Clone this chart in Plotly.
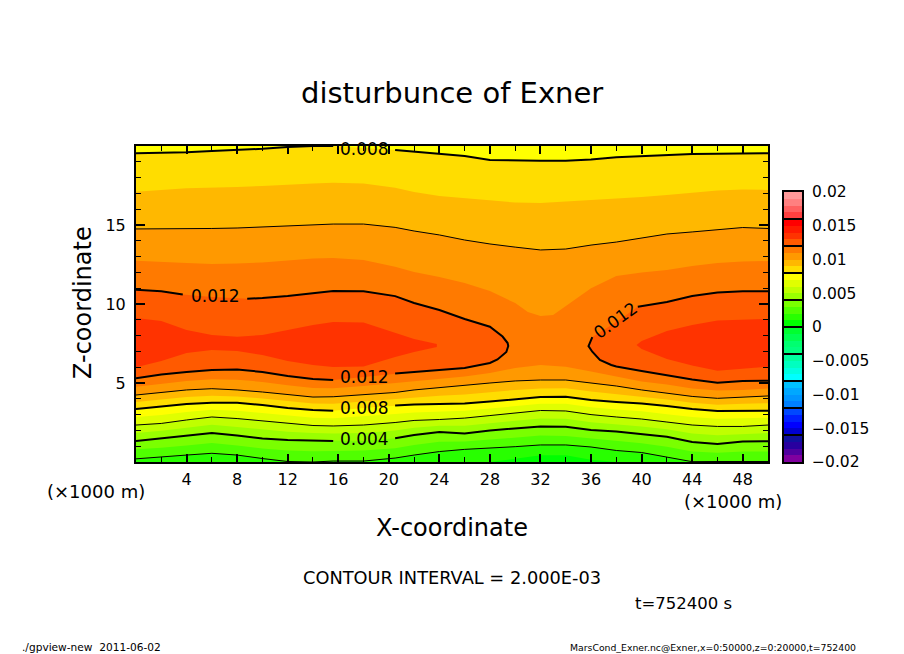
import plotly.graph_objects as go

# Heights (km) where each Exner level crosses.
# No field is available, so bands and contour lines are drawn from these crossings.
x_km = [0, 2, 4, 6, 8, 10, 12, 14, 15.6, 18, 20.5, 22, 24, 26, 28, 30, 32, 34, 36, 38, 40, 42, 44, 46, 48, 50]

lower_001 = [0, 0, 0, 0, 0, 0, 0, 0, 0, 0, 0, 0, 0, 0, 0, 0.2, 0.42, 0.42, 0.15, 0, 0, 0, 0, 0, 0, 0]
lower_002 = [0.2, 0.3, 0.44, 0.55, 0.44, 0.22, 0.03, 0.0, 0.06, 0.06, 0.25, 0.44, 0.66, 0.8, 0.87, 0.97, 1.08, 1.08, 0.95, 0.73, 0.6, 0.32, 0.02, 0.03, 0.03, 0.03]
lower_003 = [0.8, 0.9, 1.05, 1.2, 1.05, 0.85, 0.72, 0.68, 0.7, 0.72, 0.87, 1.07, 1.28, 1.3, 1.42, 1.55, 1.67, 1.65, 1.5, 1.33, 1.18, 0.97, 0.66, 0.58, 0.67, 0.67]
lower_004 = [1.33, 1.49, 1.68, 1.84, 1.68, 1.49, 1.39, 1.36, 1.33, 1.33, 1.5, 1.71, 1.9, 1.8, 2.0, 2.12, 2.25, 2.23, 2.03, 1.93, 1.77, 1.6, 1.27, 1.14, 1.3, 1.31]
lower_005 = [1.84, 1.97, 2.17, 2.35, 2.22, 2.05, 1.92, 1.84, 1.8, 1.84, 1.99, 2.17, 2.3, 2.29, 2.47, 2.61, 2.76, 2.73, 2.52, 2.39, 2.25, 2.07, 1.8, 1.7, 1.78, 1.83]
lower_006 = [2.34, 2.44, 2.66, 2.85, 2.75, 2.6, 2.44, 2.31, 2.28, 2.34, 2.5, 2.63, 2.69, 2.78, 2.94, 3.1, 3.26, 3.23, 3.0, 2.85, 2.72, 2.53, 2.34, 2.25, 2.25, 2.34]
lower_007 = [2.85, 2.98, 3.17, 3.3, 3.25, 3.1, 2.93, 2.8, 2.77, 2.88, 3.04, 3.13, 3.18, 3.24, 3.38, 3.55, 3.69, 3.68, 3.46, 3.33, 3.21, 3.03, 2.85, 2.74, 2.75, 2.8]
lower_008 = [3.35, 3.51, 3.67, 3.75, 3.75, 3.6, 3.42, 3.29, 3.25, 3.42, 3.58, 3.64, 3.67, 3.7, 3.83, 3.99, 4.11, 4.13, 3.92, 3.8, 3.7, 3.54, 3.35, 3.23, 3.25, 3.25]
lower_009 = [3.8, 3.95, 4.11, 4.2, 4.15, 4.02, 3.85, 3.7, 3.69, 3.83, 3.98, 4.1, 4.2, 4.28, 4.42, 4.56, 4.65, 4.66, 4.46, 4.3, 4.13, 3.95, 3.75, 3.63, 3.68, 3.72]
lower_010 = [4.24, 4.4, 4.56, 4.64, 4.56, 4.43, 4.27, 4.11, 4.13, 4.24, 4.4, 4.56, 4.72, 4.87, 5.0, 5.13, 5.19, 5.19, 5.0, 4.81, 4.56, 4.37, 4.15, 4.03, 4.11, 4.18]
lower_011 = [4.77, 4.97, 5.13, 5.23, 5.2, 5.07, 4.85, 4.68, 4.66, 4.81, 5.0, 5.13, 5.27, 5.41, 5.63, 5.95, 6.14, 6.03, 5.72, 5.4, 5.1, 4.9, 4.65, 4.52, 4.55, 4.65]

upper_008 = [19.54, 19.57, 19.6, 19.68, 19.75, 19.82, 19.94, 20, 20, 19.9, 19.75, 19.65, 19.53, 19.37, 19.11, 19.07, 19.07, 19.07, 19.15, 19.29, 19.37, 19.43, 19.49, 19.51, 19.53, 19.54]
upper_009 = [17.11, 17.22, 17.32, 17.37, 17.41, 17.47, 17.53, 17.63, 17.68, 17.63, 17.35, 17.09, 16.84, 16.68, 16.55, 16.42, 16.39, 16.46, 16.55, 16.68, 16.77, 16.9, 17.06, 17.18, 17.25, 17.22]
upper_010 = [14.75, 14.75, 14.75, 14.78, 14.81, 14.87, 14.94, 15.0, 15.06, 15.06, 14.85, 14.62, 14.37, 14.05, 13.8, 13.6, 13.42, 13.48, 13.73, 13.92, 14.18, 14.43, 14.56, 14.72, 14.84, 14.78]

x_upper_011 = [0, 2, 4, 6, 8, 10, 12, 14, 15.6, 18, 20.5, 22, 24, 26, 28, 30, 31, 32, 33, 34, 36, 38, 40, 42, 44, 46, 48, 50]
upper_011 = [12.74, 12.66, 12.59, 12.53, 12.56, 12.63, 12.75, 12.88, 12.91, 12.78, 12.35, 12.03, 11.71, 11.33, 10.82, 10.06, 9.49, 9.24, 9.3, 9.87, 11.0, 11.77, 11.99, 12.15, 12.4, 12.59, 12.69, 12.72]

# 0.012 closes into two lobes
left_012_x_lower = [0, 2, 4, 6, 8, 10, 12, 14, 15.6, 18, 20.5, 22, 24, 26, 28, 28.6, 29.3, 29.45]
left_012_z_lower = [5.3, 5.54, 5.7, 5.82, 5.85, 5.7, 5.44, 5.25, 5.19, 5.38, 5.6, 5.7, 5.82, 5.95, 6.27, 6.49, 6.96, 7.34]
left_012_x_upper = [29.4, 29, 28, 26, 24, 22, 20.5, 18, 15.6, 14, 12, 10, 8.8, 6, 3.7, 2, 0]
left_012_z_upper = [7.53, 7.94, 8.56, 9.05, 9.62, 10.06, 10.5, 10.8, 10.82, 10.66, 10.5, 10.38, 10.33, 10.44, 10.6, 10.8, 10.9]
right_012_x_lower = [35.8, 36.1, 36.7, 37.6, 38, 40, 42, 44, 46, 48, 50]
right_012_z_lower = [7.34, 6.98, 6.46, 6.14, 6.04, 5.76, 5.47, 5.22, 5.02, 5.13, 5.15]
right_012_x_upper = [50, 48, 46, 44, 42, 39.7, 38, 36.1]
right_012_z_upper = [10.8, 10.8, 10.72, 10.5, 10.13, 9.83, 8.86, 7.91]

# 0.013 core of each lobe
left_013_x = [0, 2, 4, 6, 8, 10, 12, 14, 15.6, 18, 20.5, 22, 23.8]
left_013_upper = [9.11, 8.92, 8.35, 8.04, 7.93, 8.04, 8.35, 8.67, 8.86, 8.83, 8.16, 7.78, 7.47]
left_013_lower = [5.99, 6.39, 6.9, 7.09, 7.03, 6.77, 6.39, 6.14, 6.01, 6.04, 6.65, 6.96, 7.28]
right_013_x = [39.6, 40, 42, 44, 46, 48, 50]
right_013_upper = [7.4, 7.66, 8.29, 8.67, 8.96, 9.02, 9.05]
right_013_lower = [7.4, 7.15, 6.52, 6.11, 5.78, 5.89, 6.03]

x_ticks = [4, 8, 12, 16, 20, 24, 28, 32, 36, 40, 44, 48]
y_ticks = [5, 10, 15]

# colour bar, bottom (-0.02) to top (0.02), one colour per 0.001
band_colors = [
    "#80009f", "#50009f", "#28009f", "#10109f",
    "#0000d0", "#0000ff", "#0020ff", "#0048ff",
    "#0080ff", "#0095ff", "#00a8ff", "#00c0ff",
    "#00ffff", "#00ffe0", "#00ffc0", "#00ffa0",
    "#00ff80", "#00ff70", "#00ff50", "#00ff30",
    "#00ff00", "#28ff00", "#50ff00", "#7aff00",
    "#9aff00", "#c0ff00", "#e0ff00", "#ffff00",
    "#ffdd00", "#ffb800", "#ff9900", "#ff7a00",
    "#ff5a00", "#ff3300", "#ff1a00", "#ff0000",
    "#ff4040", "#ff6060", "#ff8080", "#ff9999",
]
band_centers = [(i - 19.5) / 1000 for i in range(40)]
bar_ticks = [0.02, 0.015, 0.01, 0.005, 0, -0.005, -0.01, -0.015, -0.02]
bar_labels = ["0.02", "0.015", "0.01", "0.005", "0", "\u22120.005", "\u22120.01", "\u22120.015", "\u22120.02"]
bar_lines = [-0.016, -0.012, -0.008, -0.004, 0, 0.004, 0.008, 0.012, 0.016]

FONT = "DejaVu Sans"
# the page keeps its default 8px body margin, so the figure is 8px smaller and offset
PAGE_MARGIN = 8
FIG_W = 904 - PAGE_MARGIN
FIG_H = 654 - PAGE_MARGIN


def color_of(level):
    # band that starts at this level in thousandths
    return band_colors[level + 20]


def px(x):
    return (x - PAGE_MARGIN) / FIG_W


def py(y):
    return 1 - (y - PAGE_MARGIN) / FIG_H


def gap(xs, zs, hidden):
    # leave a hole in the line where a label sits
    return [None if x == hidden else z for x, z in zip(xs, zs)]


fig = go.Figure()


def add_fill(xs, zs, level):
    fig.add_trace(go.Scatter(x=xs, y=zs, mode="lines", fill="toself", fillcolor=color_of(level),
                             line=dict(width=0), hoverinfo="skip", showlegend=False))


def add_line(xs, zs, width):
    fig.add_trace(go.Scatter(x=xs, y=zs, mode="lines", line=dict(color="black", width=width),
                             hoverinfo="skip", showlegend=False))


# bands that run to the top of the plot
for level, lower in [(1, lower_001), (2, lower_002), (3, lower_003), (4, lower_004),
                     (5, lower_005), (6, lower_006), (7, lower_007)]:
    add_fill(x_km + [50, 0], lower + [20, 20], level)

# bands closed by a second crossing aloft
add_fill(x_km + x_km[::-1], lower_008 + upper_008[::-1], 8)
add_fill(x_km + x_km[::-1], lower_009 + upper_009[::-1], 9)
add_fill(x_km + x_km[::-1], lower_010 + upper_010[::-1], 10)
add_fill(x_km + x_upper_011[::-1], lower_011 + upper_011[::-1], 11)

# lobes
add_fill(left_012_x_lower + left_012_x_upper, left_012_z_lower + left_012_z_upper, 12)
add_fill(right_012_x_lower + right_012_x_upper, right_012_z_lower + right_012_z_upper, 12)
add_fill(left_013_x + left_013_x[::-1], left_013_lower + left_013_upper[::-1], 13)
add_fill(right_013_x + right_013_x[::-1], right_013_lower + right_013_upper[::-1], 13)

# contour lines, thin and labelled thick
add_line(x_km, lower_002, 1)
add_line(x_km, lower_006, 1)
add_line(x_km, lower_010, 1)
add_line(x_km, upper_010, 1)
add_line(x_km, gap(x_km, lower_004, 18), 2)
add_line(x_km, gap(x_km, lower_008, 18), 2)
add_line(x_km, gap(x_km, upper_008, 18), 2)
add_line(left_012_x_lower + left_012_x_upper,
         gap(left_012_x_lower, left_012_z_lower, 18) + gap(left_012_x_upper, left_012_z_upper, 6), 2)
add_line(right_012_x_upper + right_012_x_lower,
         gap(right_012_x_upper, right_012_z_upper, 38) + right_012_z_lower, 2)

# colour bar on its own small axes
fig.add_trace(go.Heatmap(x0=0.5, dx=1, y=band_centers, z=[[c] for c in band_centers],
                         zmin=-0.02, zmax=0.02, showscale=False, hoverinfo="skip",
                         colorscale=[s for i, c in enumerate(band_colors) for s in ((i / 40, c), ((i + 1) / 40, c))],
                         xaxis="x2", yaxis="y2"))
line_x, line_y = [], []
for v in bar_lines:
    line_x += [0, 1, None]
    line_y += [v, v, None]
fig.add_trace(go.Scatter(x=line_x, y=line_y, mode="lines", line=dict(color="black", width=2),
                         hoverinfo="skip", showlegend=False, xaxis="x2", yaxis="y2"))


def note(text, x, y, size, **kw):
    fig.add_annotation(text=text, x=px(x), y=py(y), xref="paper", yref="paper", showarrow=False,
                       xanchor="center", yanchor="middle", font=dict(family=FONT, size=size, color="black"), **kw)


def contour_label(text, x, z, **kw):
    fig.add_annotation(text=text, x=x, y=z, xref="x", yref="y", showarrow=False,
                       xanchor="center", yanchor="middle", font=dict(family=FONT, size=17, color="black"), **kw)


contour_label("0.008", 18.1, 19.8)
contour_label("0.012", 6.3, 10.5)
contour_label("0.012", 18.1, 5.4)
contour_label("0.008", 18.1, 3.42)
contour_label("0.004", 18.1, 1.46)
contour_label("0.012", 37.97, 8.99, textangle=-36)

note("disturbunce of Exner", 452, 93, 29)
note("X-coordinate", 452, 528, 24)
note("Z-coordinate", 83, 303, 24, textangle=-90)
note("(\u00d71000 m)", 96, 491, 18)
note("(\u00d71000 m)", 733, 501, 18)
note("CONTOUR INTERVAL = 2.000E-03", 452, 577, 17.8)
note("t=752400 s", 683, 603, 16.5)
note("./gpview-new\u00a0\u00a02011-06-02", 91, 647, 10.6)
note("MarsCond_Exner.nc@Exner,x=0:50000,z=0:20000,t=752400", 713, 647, 9.3)

fig.update_layout(
    width=FIG_W, height=FIG_H, margin=dict(l=0, r=0, t=0, b=0),
    paper_bgcolor="white", plot_bgcolor=color_of(0), showlegend=False,
    font=dict(family=FONT, color="black"),
    xaxis=dict(domain=[px(136), px(768)], range=[0, 50], tickvals=x_ticks, ticks="inside", ticklen=8, tickwidth=2,
               tickcolor="black", showline=True, linecolor="black", linewidth=2, mirror="ticks", automargin=False,
               showgrid=False, zeroline=False, tickfont=dict(size=16), ticklabelstandoff=2,
               minor=dict(dtick=2, tick0=0, ticks="inside", ticklen=5, tickwidth=1, tickcolor="black", showgrid=False)),
    yaxis=dict(domain=[py(462), py(146)], range=[0, 20], tickvals=y_ticks, ticks="inside", ticklen=9, tickwidth=2,
               tickcolor="black", showline=True, linecolor="black", linewidth=2, mirror="ticks", automargin=False,
               showgrid=False, zeroline=False, tickfont=dict(size=16), ticklabelstandoff=5,
               minor=dict(dtick=1, tick0=0, ticks="inside", ticklen=5, tickwidth=1, tickcolor="black", showgrid=False)),
    xaxis2=dict(domain=[px(784), px(802)], range=[0, 1], anchor="y2", showticklabels=False, ticks="", automargin=False,
                showline=True, linecolor="black", linewidth=2, mirror=True, showgrid=False, zeroline=False),
    yaxis2=dict(domain=[py(462), py(192)], range=[-0.02, 0.02], anchor="x2", side="right", tickvals=bar_ticks,
                ticktext=bar_labels, ticks="", showline=True, linecolor="black", linewidth=2, mirror=True, automargin=False,
                showgrid=False, zeroline=False, tickfont=dict(size=15.5), ticklabelstandoff=5),
)

fig.write_html("out.html")
